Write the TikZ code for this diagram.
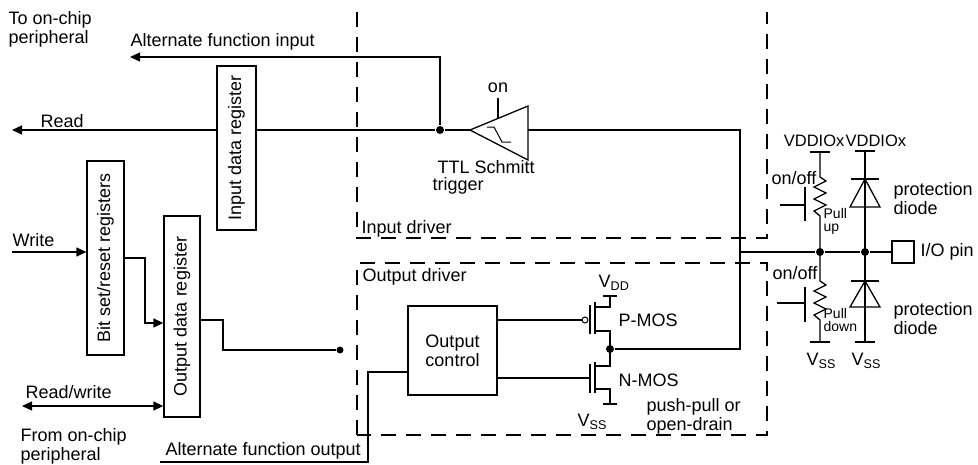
\documentclass[tikz,border=0pt]{standalone}
\usepackage{fontspec}
\setmainfont{Liberation Sans}
\usetikzlibrary{arrows.meta}
\begin{document}
\begin{tikzpicture}[x=1pt,y=-1pt,line width=1.3pt,
  every node/.style={font=\fontsize{18}{19}\selectfont,inner sep=0pt},
  lbl/.style={anchor=west,align=left},
  sml/.style={font=\fontsize{14}{13}\selectfont,anchor=west,align=left},
  dsh/.style={dash pattern=on 15pt off 10pt},
  arr/.style={-{Triangle[length=10pt,width=9pt]}},
  dot/.style={circle,fill,minimum size=8pt,inner sep=0pt}]
\useasboundingbox (0,0) rectangle (978,464);
% dashed boxes
\draw[dsh] (357,12) -- (357,238) -- (767,238) -- (767,12);
\draw[dsh] (357,435) -- (357,263) -- (767,263) -- (767,435) -- cycle;
\node[lbl] at (361,229) (tid) {Input driver};
\node[lbl] at (362,277) (tod) {Output driver};
% texts left
\node[lbl] at (8,29) (t1) {To on-chip\\peripheral};
\node[lbl] at (130,42) (t2) {Alternate function input};
\node[lbl] at (40,121) (t3) {Read};
\node[lbl] at (12,240) (t4) {Write};
\node[lbl] at (25,392) (t5) {Read/write};
\node[lbl] at (20,446) (t6) {From on-chip\\peripheral};
\node[lbl] at (165,451) (t7) {Alternate function output};
% registers
\node[draw,minimum width=39pt,minimum height=164pt] (idr) at (236.5,148) {};
\node[rotate=90] at (idr) {Input data register};
\node[draw,minimum width=37pt,minimum height=194pt] (bsr) at (105.5,258) {};
\node[rotate=90] at (bsr) {Bit set/reset registers};
\node[draw,minimum width=36pt,minimum height=201pt] (odr) at (182,316.5) {};
\node[rotate=90] at (odr) {Output data register};
\node[draw,minimum width=89pt,minimum height=89pt,align=center] (oc) at (452.5,350.5) {Output\\control};
% input path
\node[dot] (j1) at (440,130) {};
\coordinate (ain) at (130,57);
\coordinate (rd) at (12,130);
\draw[arr] (j1) -- (440,57) -- (ain);
\draw (j1) -- (idr.east |- j1);
\draw[arr] (idr.west |- j1) -- (rd);
% schmitt
\coordinate (st) at (470,130);
\draw (st) -- (528,106) -- (528,160) -- cycle;
\draw (498,98) -- (498,118);
\node at (498,88) (ton) {on};
\draw[line width=1pt] (487,127) -- (494,127) -- (502,142) -- (511,142);
\draw (j1) -- (st);
\node[lbl] at (432,167) (tt) {\ TTL Schmitt};
\node[lbl] at (432,186) (tt2) {trigger};
\coordinate (c1) at (740,130);
\coordinate (c2) at (740,252);
\draw (528,130) -- (c1) -- (c2);
% write
\coordinate (wr) at (12,252);
\draw[arr] (wr) -- (bsr.west |- wr);
\draw[arr] (123,258) -- (145,258) -- (145,323) -- (odr.west |- 0,323);
\coordinate (rw) at (22,406);
\draw[{Triangle[length=10pt,width=9pt]}-{Triangle[length=10pt,width=9pt]}] (rw) -- (odr.west |- rw);
\node[dot,minimum size=7pt] (j2) at (340,350) {};
\draw (odr.east |- 0,320) -- (223,320) -- (223,350) -- (j2);
\draw (160,462) -- (368,462) -- (368,372) -- (oc.west |- 0,372);
% MOS
\node[circle,draw,line width=1pt,minimum size=6pt] (bub) at (585,320) {};
\draw (oc.east |- bub) -- (bub);
\draw (590,305) -- (590,334);
\draw (595,302) -- (595,334);
\draw (595,307) -- (610,307) -- (610,296);
\draw (603,296) -- (617,296);
\draw (595,331) -- (610,331) -- (610,349);
\node[dot] (dn) at (610,349) {};
\draw (dn) -- (740,349) -- (c2);
\draw (oc.east |- 0,378) -- (590,378);
\draw (590,364) -- (590,393);
\draw (595,362) -- (595,393);
\draw (595,366) -- (610,366) -- (610,349);
\draw (595,389) -- (610,389) -- (610,404);
\draw (603,404) -- (617,404);
\node[lbl] at (598,283) (vdd) {V\textsubscript{DD}};
\node[lbl] at (577,422) (vss) {V\textsubscript{SS}};
\node[lbl] at (618,320) (tp) {P-MOS};
\node[lbl] at (618,380) (tn) {N-MOS};
\node[lbl] at (646,416) (tpp) {push-pull or\\open-drain};
% right side
\node[dot] (d1) at (820,252) {};
\node[dot] (d2) at (865,252) {};
\node[draw,minimum width=22pt,minimum height=22pt] (pin) at (903,252) {};
\node[lbl] at (920,252) (tpin) {I/O pin};
\draw (c2) -- (d1) -- (d2) -- (pin);
% pull up
\draw (810,152) -- (830,152);
\draw (820,152) -- (820,177) -- (826,181) -- (814,187) -- (826,193) -- (814,199) -- (826,205) -- (814,211) -- (820,216) -- (820,252);
\draw (805,187) -- (805,221);
\draw (780,205) -- (805,205);
\node[lbl] at (771,178) (to1) {on/off};
\node[sml] at (823,221) (pu) {Pull\\up};
% pull down
\draw (820,252) -- (820,281) -- (826,285) -- (814,291) -- (826,297) -- (814,303) -- (826,309) -- (814,315) -- (820,320) -- (820,342);
\draw (810,342) -- (830,342);
\draw (805,287) -- (805,322);
\draw (777,303) -- (805,303);
\node[lbl] at (772,273) (to2) {on/off};
\node[sml] at (823,320) (pd) {Pull\\down};
% diodes
\draw (855,151) -- (875,151);
\draw (865,151) -- (865,252);
\draw (851,179) -- (879,179);
\draw (865,179) -- (850,207) -- (880,207) -- cycle;
\draw (865,252) -- (865,342);
\draw (855,342) -- (875,342);
\draw (851,281) -- (879,281);
\draw (865,281) -- (850,307) -- (880,307) -- cycle;
\node[anchor=south east,font=\fontsize{16.5}{17}\selectfont] at (845,147) (v1) {VDDIOx};
\node[anchor=south west,font=\fontsize{16.5}{17}\selectfont] at (845,147) (v2) {VDDIOx};
\node[lbl] at (893,199) (pd1) {protection\\diode};
\node[lbl] at (893,319) (pd2) {protection\\diode};
\node[lbl] at (806,361) (vs1) {V\textsubscript{SS}};
\node[lbl] at (851,361) (vs2) {V\textsubscript{SS}};
\end{tikzpicture}
\end{document}
